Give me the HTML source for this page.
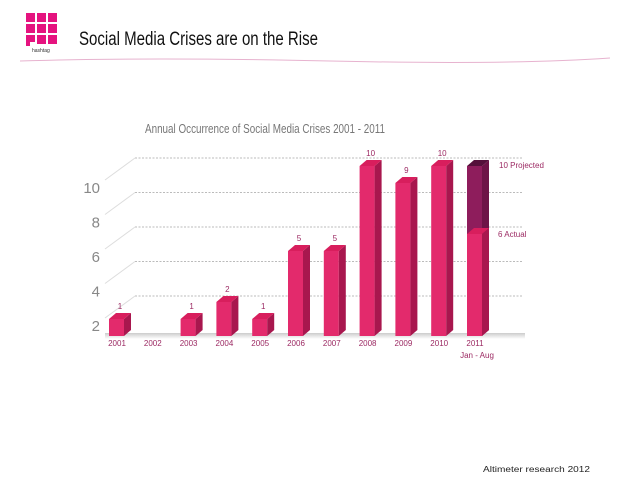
<!DOCTYPE html>
<html><head><meta charset="utf-8"><style>
body{margin:0;background:#fff;width:638px;height:479px;overflow:hidden;position:relative;font-family:"Liberation Sans",sans-serif}
</style></head><body>
<svg width="638" height="479" style="position:absolute;left:0;top:0">
<defs>
<linearGradient id="floor" x1="0" y1="0" x2="0" y2="1"><stop offset="0" stop-color="#ccc"/><stop offset="1" stop-color="#fff"/></linearGradient>
</defs>
<g fill="#e5137f">
<rect x="26" y="13" width="9" height="9"/><rect x="37" y="13" width="9" height="9"/><rect x="48" y="13" width="9" height="9"/>
<rect x="26" y="24" width="9" height="9"/><rect x="37" y="24" width="9" height="9"/><rect x="48" y="24" width="9" height="9"/>
<rect x="26" y="35" width="9" height="7"/><rect x="37" y="35" width="9" height="9"/><rect x="48" y="35" width="9" height="9"/>
<rect x="26" y="42" width="4" height="4"/>
<text x="32" y="52" font-size="5" fill="#333">hashtag</text>
</g>
<text x="79" y="45" font-size="19" fill="#111" textLength="239" lengthAdjust="spacingAndGlyphs">Social Media Crises are on the Rise</text>
<path d="M20 61 Q150 57 330 61 T610 58" stroke="#e7b3cf" stroke-width="1" fill="none"/>
<text x="145" y="133" font-size="13" fill="#777" textLength="240" lengthAdjust="spacingAndGlyphs">Annual Occurrence of Social Media Crises 2001 - 2011</text>
<g id="grid"></g>
<rect x="105" y="333" width="420" height="6" fill="url(#floor)"/>
<g id="bars"></g>
<text x="483" y="472" font-size="8" fill="#222" textLength="107" lengthAdjust="spacingAndGlyphs">Altimeter research 2012</text>
</svg>
<script>
const years=["2001","2002","2003","2004","2005","2006","2007","2008","2009","2010","2011"];
const values=[1,0,1,2,1,5,5,10,9,10,6];
const valueLabels=["1","","1","2","1","5","5","10","9","10",""];
const projected=[0,0,0,0,0,0,0,0,0,0,10];
const yTicks=["10","8","6","4","2"];
const NS="http://www.w3.org/2000/svg";
function mk(t,a,p){const e=document.createElementNS(NS,t);for(const k in a)e.setAttribute(k,a[k]);p.appendChild(e);return e;}
const xC=i=>117+i*35.8;
const yV=v=>336-17*v;
const grid=document.getElementById('grid'),bars=document.getElementById('bars');
yTicks.forEach((t,i)=>{
  const gy=158+i*34.5;
  const l=mk('line',{x1:135,y1:gy,x2:522,y2:gy,stroke:'#bbb','stroke-dasharray':'2,1.5'},grid);
  
  
  const d=mk('line',{x1:105,y1:gy+22,x2:135,y2:gy,stroke:'#ddd'},grid);
  
  
  const tx=mk('text',{x:100,y:gy+35,'font-size':15,fill:'#888','text-anchor':'end'},grid);
  tx.textContent=t;
  
  
});
function bar(i,v,front,side,top,name){
  const x=xC(i)-8,w=15,dx=7,dy=6,y=yV(v),b=336;
  const g=mk('g',{},bars);
  
  
  mk('rect',{x:x,y:y,width:w,height:b-y,fill:front},g);
  mk('polygon',{points:`${x+w},${y} ${x+w+dx},${y-dy} ${x+w+dx},${b-dy} ${x+w},${b}`,fill:side},g);
  mk('polygon',{points:`${x},${y} ${x+dx},${y-dy} ${x+w+dx},${y-dy} ${x+w},${y}`,fill:top},g);
}
years.forEach((yr,i)=>{
  if(projected[i]>0) bar(i,projected[i],'#8e1d5c','#6e1447','#55103a','bar-projected-'+yr);
  if(values[i]>0) bar(i,values[i],'#e32a6c','#a8174e','#d81e5d','bar-'+yr);
  if(valueLabels[i]){
    const t=mk('text',{x:xC(i)+3,y:yV(values[i])-10,'font-size':8,fill:'#9c2a63','text-anchor':'middle'},bars);
    t.textContent=valueLabels[i];
    
    
  }
  const t=mk('text',{x:xC(i),y:346,'font-size':8,fill:'#9c2a63','text-anchor':'middle'},bars);
  t.textContent=yr;
  
  
});
const sub=mk('text',{x:xC(10)+2,y:358,'font-size':8,fill:'#9c2a63','text-anchor':'middle'},bars);
sub.textContent='Jan - Aug';


const p=mk('text',{x:499,y:yV(projected[10])+2,'font-size':8,fill:'#9c2a63'},bars);
p.textContent='10 Projected';


const a=mk('text',{x:498,y:yV(values[10])+3,'font-size':8,fill:'#9c2a63'},bars);
a.textContent='6 Actual';


</script>
</body></html>
